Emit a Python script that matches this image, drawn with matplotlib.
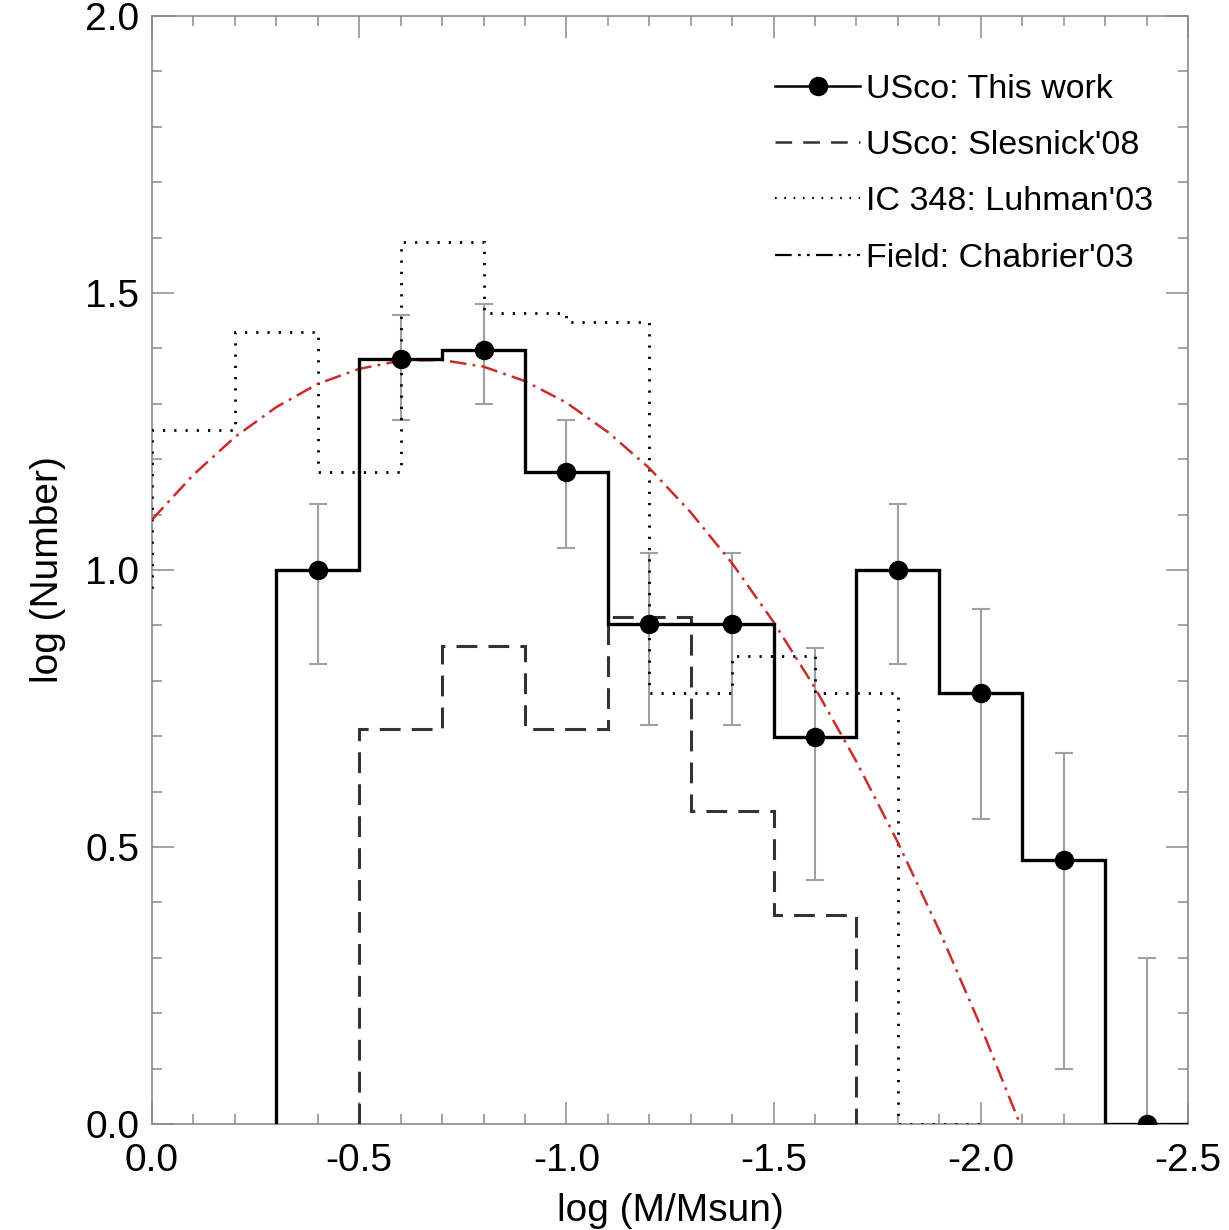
import numpy as np
import matplotlib
matplotlib.use("Agg")
import matplotlib.pyplot as plt
from matplotlib.ticker import MultipleLocator

plt.rcParams['font.family'] = ['Liberation Sans', 'DejaVu Sans']
plt.rcParams['lines.scale_dashes'] = False

# USco: This work (bins of 0.2 dex, centres -0.4 .. -2.4)
usco_centres = [-0.4, -0.6, -0.8, -1.0, -1.2, -1.4, -1.6, -1.8, -2.0, -2.2, -2.4]
usco_edges = [-0.3, -0.5, -0.7, -0.9, -1.1, -1.3, -1.5, -1.7, -1.9, -2.1, -2.3, -2.5]
usco_vals = [1.0, 1.380, 1.398, 1.176, 0.903, 0.903, 0.699, 1.0, 0.778, 0.477, 0.0]
usco_hi = [1.12, 1.46, 1.48, 1.27, 1.03, 1.03, 0.86, 1.12, 0.93, 0.67, 0.30]
usco_lo = [0.83, 1.27, 1.30, 1.04, 0.72, 0.72, 0.44, 0.83, 0.55, 0.10, -0.5]

# USco: Slesnick'08
sles_edges = [-0.5, -0.7, -0.9, -1.1, -1.3, -1.5, -1.7]
sles_vals = [0.713, 0.863, 0.713, 0.915, 0.565, 0.377]

# IC 348: Luhman'03
luh_edges = [0.2, 0.0, -0.2, -0.4, -0.6, -0.8, -1.0, -1.2, -1.4, -1.6, -1.8, -2.0]
luh_vals = [0.954, 1.253, 1.43, 1.176, 1.592, 1.464, 1.448, 0.778, 0.845, 0.778, 0.0]

# Field: Chabrier'03
chab_x = [0.0, -0.1, -0.2, -0.3, -0.4, -0.5, -0.6, -0.7, -0.8, -0.9, -1.0,
          -1.1, -1.2, -1.3, -1.4, -1.5, -1.6, -1.7, -1.8, -1.9, -2.0, -2.1]
chab_y = [1.091, 1.172, 1.240, 1.294, 1.336, 1.363, 1.378, 1.379, 1.367, 1.341, 1.302,
          1.249, 1.184, 1.104, 1.012, 0.906, 0.787, 0.654, 0.508, 0.349, 0.176, -0.010]

fig = plt.figure(figsize=(12.29, 12.30), dpi=100)
ax = fig.add_axes([152/1229, 1 - 1124/1230, (1188-152)/1229, (1124-16)/1230])

usco_vals = np.array(usco_vals)
ax.errorbar(usco_centres, usco_vals,
            yerr=[usco_vals - np.array(usco_lo), np.array(usco_hi) - usco_vals],
            fmt='none', ecolor='#a0a0a0', elinewidth=1.5, capsize=6.5, capthick=1.5, zorder=2)

ax.stairs(luh_vals, luh_edges, baseline=0, color='black', lw=2.0,
          linestyle=(0, (1.6, 6.5)), zorder=3)
ax.stairs(sles_vals, sles_edges, baseline=0, color='#333333', lw=2.2,
          linestyle=(0, (15, 8)), zorder=3)
ax.plot(chab_x, chab_y, color='#cc2b2b', lw=1.8,
        linestyle=(0, (12, 4.5, 2, 4.5)), zorder=4)
ax.stairs(usco_vals, usco_edges, baseline=0, color='black', lw=2.4, zorder=5)
ax.plot(usco_centres, usco_vals, 'o', color='black', ms=13, zorder=6, clip_on=True)

# legend proxies
h1, = ax.plot([], [], '-o', color='black', lw=1.8, ms=13)
h2, = ax.plot([], [], color='#333333', lw=1.8, linestyle=(0, (12, 8)))
h3, = ax.plot([], [], color='black', lw=1.6, linestyle=(0, (1.2, 5.5)))
h4, = ax.plot([], [], color='black', lw=1.6, linestyle=(0, (12, 4.5, 2, 4.5, 2, 4.5)))
ax.legend([h1, h2, h3, h4],
          ['USco: This work', "USco: Slesnick'08", "IC 348: Luhman'03", "Field: Chabrier'03"],
          loc='upper left', bbox_to_anchor=(775/1229, 1 - 74/1230),
          bbox_transform=fig.transFigure, frameon=False, fontsize=24.5,
          handlelength=2.5, handletextpad=0.18, labelspacing=0.74,
          borderpad=0, borderaxespad=0)

ax.set_xlim(0.0, -2.5)
ax.set_ylim(0.0, 2.0)
ax.xaxis.set_major_locator(MultipleLocator(0.5))
ax.xaxis.set_minor_locator(MultipleLocator(0.1))
ax.yaxis.set_major_locator(MultipleLocator(0.5))
ax.yaxis.set_minor_locator(MultipleLocator(0.1))
ax.xaxis.set_major_formatter(plt.FormatStrFormatter('%.1f'))
ax.yaxis.set_major_formatter(plt.FormatStrFormatter('%.1f'))

for s in ax.spines.values():
    s.set_color('#8a8a8a')
    s.set_linewidth(1.2)
ax.tick_params(which='both', direction='in', top=True, right=True,
               color='#8a8a8a', width=1.1, labelsize=28)
ax.tick_params(axis='x', pad=14)
ax.tick_params(axis='y', pad=9)
ax.tick_params(which='major', length=16)
ax.tick_params(which='minor', length=7)

ax.set_xlabel('log (M/Msun)', fontsize=28, labelpad=10)
ax.set_ylabel('log (Number)', fontsize=28, labelpad=14)

fig.savefig('out.png', dpi=100)
